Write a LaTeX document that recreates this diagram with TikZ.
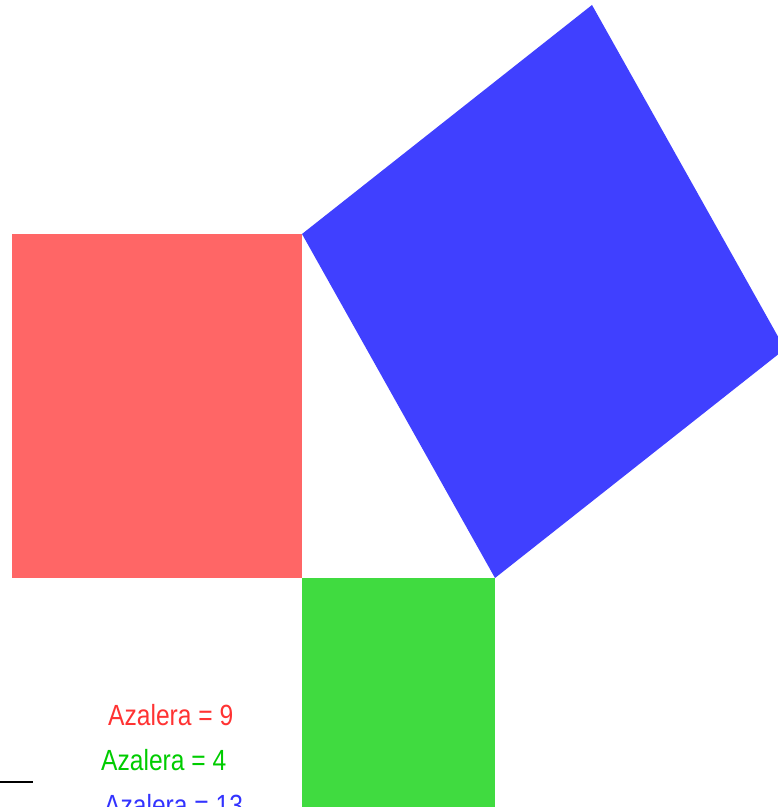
\documentclass[tikz,border=0pt]{standalone}
\usepackage{fontspec}
\setmainfont{Liberation Sans}
\definecolor{sqred}{RGB}{255,102,102}
\definecolor{sqblue}{RGB}{64,64,255}
\definecolor{sqgreen}{RGB}{64,219,64}
\definecolor{txtred}{RGB}{255,51,51}
\definecolor{txtgreen}{RGB}{0,204,0}
\definecolor{txtblue}{RGB}{51,51,255}
\begin{document}
\begin{tikzpicture}[x=1pt,y=1pt,
  lbl/.style={anchor=base west,inner sep=0pt,font=\fontsize{24.6}{28}\selectfont,yscale=1.186}]
\useasboundingbox (0,0) rectangle (778,807);
\clip (0,0) rectangle (778,807);
\fill[sqred] (12,229) rectangle (302,573);
\fill[sqgreen] (302,0) rectangle (495,229);
\fill[sqblue] (302,573) -- (592,802) -- (785,458) -- (495,229) -- cycle;
\node[lbl,text=txtred] (t9) at (108,81) {Azalera = 9};
\node[lbl,text=txtgreen] (t4) at (101,36) {Azalera = 4};
\node[lbl,text=txtblue] (t13) at (104,-9) {Azalera = 13};
\coordinate (la) at (0,24.5);
\coordinate (lb) at (33,24.5);
\draw[line width=2pt] (la) -- (lb);
\end{tikzpicture}
\end{document}
